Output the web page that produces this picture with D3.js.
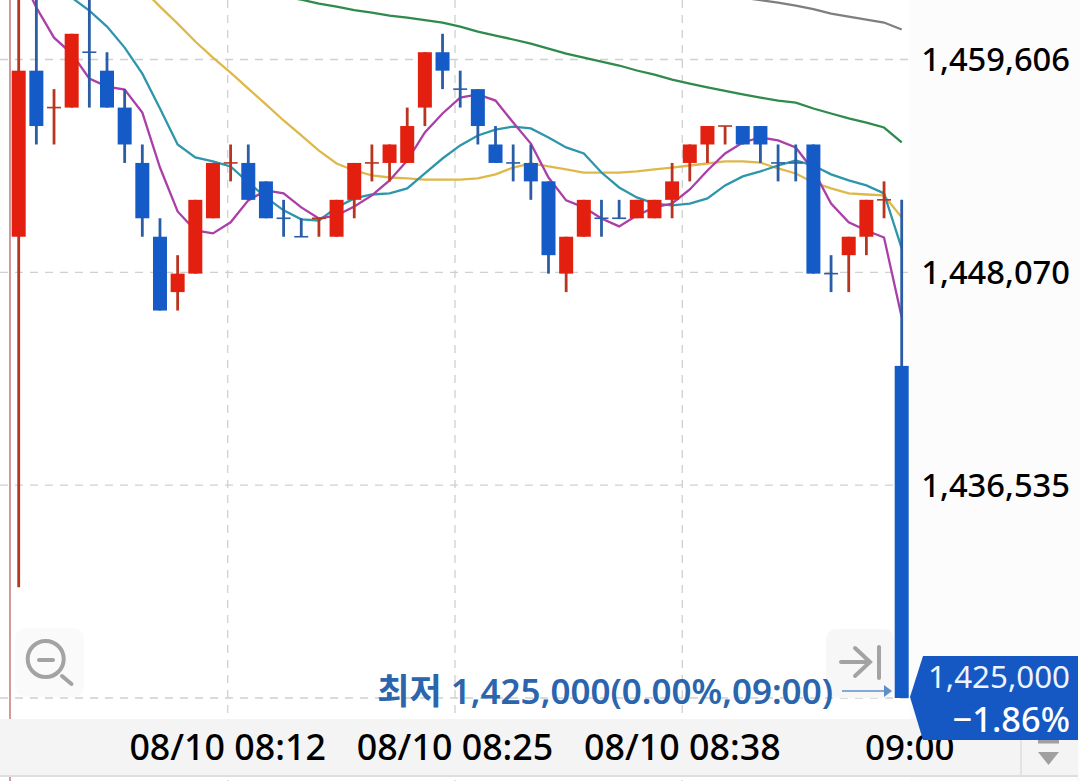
<!DOCTYPE html>
<html lang="ko">
<head>
  <meta charset="UTF-8">
  <title>1분봉 차트</title>
  <script src="https://d3js.org/d3.v7.min.js"></script>
  <style>
    body { margin: 0; padding: 0; overflow: hidden; background: #fff; }
    svg { display: block; }
    text { font-family: "Noto Sans", "Noto Sans CJK KR", sans-serif; }
  </style>
</head>
<body>
  <svg id="chart" width="1080" height="781"></svg>

  <script>
    // Data: one candle per minute, 08:00 to 09:00 (left part runs off the top of the chart)
    const opens  = [1450000,1459000,1457000,1457000,1460000,1459000,1457000,1454000,1450000,1447000,1448000,1451000,1454000,1454000,1453000,1451000,1450000,1451000,1450000,1452000,1454000,1454000,1454000,1457000,1460000,1458000,1458000,1455000,1454000,1454000,1453000,1448000,1450000,1451000,1451000,1451000,1451000,1452000,1454000,1455000,1456000,1456000,1456000,1454000,1454000,1455000,1448000,1449000,1450000,1452000,1443000];
    const closes = [1459000,1456000,1457000,1461000,1460000,1457000,1455000,1451000,1446000,1448000,1452000,1454000,1454000,1452000,1451000,1451000,1450000,1451000,1452000,1454000,1454000,1455000,1456000,1460000,1459000,1458000,1456000,1454000,1454000,1453000,1449000,1450000,1452000,1451000,1451000,1452000,1452000,1453000,1455000,1456000,1456000,1455000,1455000,1454000,1454000,1448000,1448000,1450000,1452000,1452000,1425000];
    const highs  = [1470000,1463000,1458000,1461000,1463000,1460000,1458000,1455000,1451000,1449000,1452000,1454000,1455000,1455000,1453000,1452000,1451000,1451000,1452000,1454000,1455000,1455000,1457000,1460000,1461000,1459000,1458000,1456000,1455000,1455000,1453000,1450000,1452000,1452000,1452000,1452000,1452000,1454000,1455000,1456000,1456000,1456000,1456000,1455000,1455000,1455000,1449000,1450000,1452000,1453000,1452000];
    const lows   = [1431000,1455000,1455000,1457000,1457000,1457000,1454000,1450000,1446000,1446000,1448000,1451000,1453000,1452000,1451000,1450000,1450000,1450000,1450000,1451000,1453000,1453000,1454000,1456000,1458000,1457000,1455000,1454000,1453000,1452000,1448000,1447000,1450000,1450000,1451000,1451000,1451000,1451000,1453000,1454000,1455000,1455000,1454000,1453000,1453000,1448000,1447000,1447000,1449000,1451000,1425000];

    const ma5  = [1464420,1462420,1460790,1459930,1458570,1458140,1457980,1456730,1453750,1451370,1450340,1450180,1450780,1451970,1452510,1452350,1451590,1450990,1451150,1451640,1452240,1453050,1454130,1455650,1456680,1457540,1457710,1457380,1456190,1455050,1453210,1451970,1451590,1450990,1450560,1451150,1451590,1451800,1452560,1453590,1454510,1455110,1455380,1455220,1454840,1453590,1451800,1450780,1450340,1449960,1445630];
    const ma10 = [1465500,1464960,1463880,1462960,1462260,1461390,1460250,1458840,1456950,1455000,1454300,1454080,1453810,1452940,1452130,1451430,1450940,1450880,1451590,1452080,1452290,1452350,1452620,1453430,1454240,1454950,1455490,1455810,1455970,1455870,1455380,1454840,1454510,1453480,1452670,1452130,1451800,1451700,1451800,1452080,1452780,1453270,1453540,1453860,1454130,1453860,1453380,1453050,1452780,1452350,1449370];
    const ma20 = [1469840,1469020,1468210,1467400,1466370,1465400,1464420,1463450,1462470,1461550,1460580,1459710,1458900,1458030,1457170,1456300,1455490,1454670,1453970,1453590,1453320,1453210,1453160,1453100,1453100,1453100,1453160,1453380,1453750,1453970,1453810,1453650,1453480,1453480,1453480,1453540,1453650,1453750,1453860,1453970,1454080,1454080,1454020,1453700,1453430,1452940,1452620,1452350,1452290,1452240,1451050];
    // the two slow averages only come into view on the right, they start at candle 14 and 41
    const ma60Start = 14;
    const ma60 = [1463120,1463010,1462850,1462630,1462470,1462280,1462150,1461980,1461880,1461740,1461610,1461390,1461120,1460900,1460690,1460470,1460200,1459930,1459710,1459490,1459280,1459010,1458790,1458520,1458300,1458090,1457900,1457710,1457540,1457380,1457270,1456950,1456680,1456410,1456190,1455920,1455110];
    const ma120Start = 41;
    const ma120 = [1462960,1462820,1462690,1462530,1462340,1462090,1461930,1461770,1461610,1461230];

    const priceTicks = [1459606, 1448070, 1436535, 1425000];
    const gridMinutes = [12, 25, 38];
    const timeLabels = ["08/10 08:12", "08/10 08:25", "08/10 08:38"];
    const lastTimeLabel = "09:00";
    const lastPrice = 1425000;
    const lastChange = "\u22121.86%";
    const lowLabel = "최저 1,425,000(0.00%,09:00)";
    const redDoji = [2, 12, 17, 20, 40, 49];

    const red = "#e3200f", blue = "#155bc8";
    const redWick = "#b9351f", blueWick = "#2a5da6";

    const svg = d3.select("#chart");

    // Scales
    const x = d3.scaleLinear().domain([0, 50]).range([18.7, 901.7]);
    const y = d3.scaleLinear().domain([1425000, 1459606]).range([698, 59.5]);
    const gridX = d3.scaleLinear().domain([12, 38]).range([227.7, 682.3]);

    const candles = opens.map((o, i) => ({ i, o, c: closes[i], h: highs[i], l: lows[i] }));
    const bodyW = 14;

    // Background of the price column
    svg.append("rect").attr("x", 910).attr("y", 0).attr("width", 170).attr("height", 781).attr("fill", "#fcfcfc");

    // Clip for everything inside the plot
    svg.append("defs").append("clipPath").attr("id", "plot")
      .append("rect").attr("x", 0).attr("y", 0).attr("width", 910).attr("height", 719);

    // Grid
    const grid = svg.append("g").attr("stroke", "#d0d0d0").attr("stroke-width", 1.3).attr("stroke-dasharray", "8,7");
    grid.selectAll(".h").data(priceTicks).join("line").attr("class", "h")
      .attr("x1", 0).attr("x2", 910).attr("y1", d => y(d)).attr("y2", d => y(d));
    grid.selectAll(".v").data(gridMinutes).join("line").attr("class", "v")
      .attr("x1", d => gridX(d)).attr("x2", d => gridX(d)).attr("y1", 0).attr("y2", 781);

    // Left session marker
    svg.append("line").attr("x1", 10).attr("x2", 10).attr("y1", 0).attr("y2", 781)
      .attr("stroke", "#c98080").attr("stroke-width", 1.6);

    // Buttons sit under the candles
    svg.append("rect").attr("x", 15).attr("y", 628).attr("width", 69).attr("height", 69).attr("rx", 10).attr("fill", "#fafafa");
    svg.append("rect").attr("x", 826).attr("y", 629).attr("width", 68).attr("height", 69).attr("rx", 10).attr("fill", "#f7f7f7");

    const icon = svg.append("g").attr("fill", "none").attr("stroke", "#a3a3a3").attr("stroke-linecap", "round");
    icon.append("circle").attr("cx", 45.7).attr("cy", 659).attr("r", 18).attr("stroke-width", 4);
    icon.append("line").attr("x1", 39).attr("x2", 53).attr("y1", 660).attr("y2", 660).attr("stroke-width", 4);
    icon.append("line").attr("x1", 62).attr("x2", 71.5).attr("y1", 676).attr("y2", 684).attr("stroke-width", 4);
    icon.append("path").attr("d", "M841,662H869M855,648L870,662L855,676").attr("stroke-width", 4);
    icon.append("line").attr("x1", 879).attr("x2", 879).attr("y1", 647).attr("y2", 678).attr("stroke-width", 4);

    const plot = svg.append("g").attr("clip-path", "url(#plot)");

    // Moving averages
    const line = d3.line().x(d => x(d[0])).y(d => y(d[1]));
    const series = [
      { color: "#7f7f7f", values: ma120.map((v, i) => [i + ma120Start, v]) },
      { color: "#2f8a4c", values: ma60.map((v, i) => [i + ma60Start, v]) },
      { color: "#dfb84a", values: ma20.map((v, i) => [i, v]) },
      { color: "#2e96aa", values: ma10.map((v, i) => [i, v]) },
      { color: "#ab3fa8", values: ma5.map((v, i) => [i, v]) }
    ];
    plot.selectAll(".ma").data(series).join("path").attr("class", "ma")
      .attr("fill", "none")
      .attr("stroke", d => d.color)
      .attr("stroke-width", 2.3)
      .attr("d", d => line(d.values));

    // Candles
    const isUp = d => d.c > d.o || (d.c === d.o && redDoji.includes(d.i));
    const candle = plot.selectAll(".candle").data(candles).join("g").attr("class", "candle");
    candle.append("line")
      .attr("x1", d => x(d.i)).attr("x2", d => x(d.i))
      .attr("y1", d => y(d.h)).attr("y2", d => y(d.l))
      .attr("stroke", d => isUp(d) ? redWick : blueWick)
      .attr("stroke-width", 2.8);
    candle.append("rect")
      .attr("x", d => x(d.i) - bodyW / 2)
      .attr("width", bodyW)
      .attr("y", d => d.o === d.c ? y(d.o) - 0.8 : y(Math.max(d.o, d.c)))
      .attr("height", d => d.o === d.c ? 1.6 : Math.abs(y(d.o) - y(d.c)))
      .attr("fill", d => d.o === d.c ? (isUp(d) ? redWick : blueWick) : (isUp(d) ? red : blue));

    // Time bar
    svg.append("rect").attr("x", 0).attr("y", 719).attr("width", 1078).attr("height", 56).attr("fill", "#f4f4f4");
    svg.append("rect").attr("x", 0).attr("y", 775).attr("width", 1078).attr("height", 2).attr("fill", "#dedede");
    svg.append("line").attr("x1", 1021).attr("x2", 1021).attr("y1", 719).attr("y2", 775).attr("stroke", "#dedede").attr("stroke-width", 1.5);
    svg.append("rect").attr("x", 1038).attr("y", 740).attr("width", 21).attr("height", 3.5).attr("fill", "#a0a0a0");
    svg.append("path").attr("d", "M1038,752H1059L1048.5,765Z").attr("fill", "#a0a0a0");

    svg.selectAll(".time").data(timeLabels).join("text").attr("class", "time")
      .attr("x", (d, i) => gridX(gridMinutes[i]))
      .attr("y", 760)
      .attr("text-anchor", "middle")
      .attr("font-size", 35.8)
      .attr("font-weight", 500)
      .attr("fill", "#000")
      .text(d => d);
    svg.append("text").attr("x", x(50) + 8).attr("y", 760).attr("text-anchor", "middle")
      .attr("font-size", 35).attr("font-weight", 500).attr("fill", "#000").text(lastTimeLabel);

    // Price labels
    svg.selectAll(".price").data(priceTicks.slice(0, 3)).join("text").attr("class", "price")
      .attr("x", 1070)
      .attr("y", d => y(d) + 11.5)
      .attr("text-anchor", "end")
      .attr("font-size", 32.7)
      .attr("font-weight", 500)
      .attr("fill", "#000")
      .text(d => d3.format(",")(d));

    // Lowest price note and arrow
    svg.append("text").attr("x", 833).attr("y", 704).attr("text-anchor", "end")
      .attr("font-size", 35).attr("font-weight", 600).attr("fill", "#2a65ad").text(lowLabel);
    svg.append("line").attr("x1", 842).attr("x2", 886).attr("y1", y(lastPrice) - 7).attr("y2", y(lastPrice) - 7)
      .attr("stroke", "#5f8fc8").attr("stroke-width", 1.5);
    svg.append("path").attr("d", "M884,685L892,691L884,697Z").attr("fill", "#5f8fc8");

    // Last price tag
    svg.append("path").attr("d", "M923,656H1078V740H923L910,697Z").attr("fill", "#1558c4");
    svg.append("text").attr("x", 1070).attr("y", 688).attr("text-anchor", "end")
      .attr("font-size", 31.3).attr("fill", "#eef4ff").text(d3.format(",")(lastPrice));
    svg.append("text").attr("x", 1070).attr("y", 732).attr("text-anchor", "end")
      .attr("font-size", 34.4).attr("font-weight", 500).attr("fill", "#ffffff").text(lastChange);
  </script>
</body>
</html>
